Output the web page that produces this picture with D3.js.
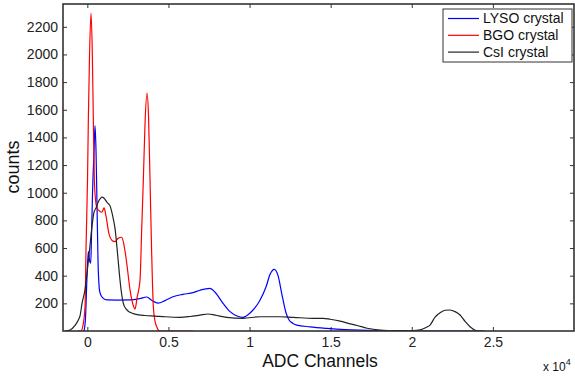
<!DOCTYPE html>
<html>
<head>
<meta charset="utf-8">
<script src="https://cdn.jsdelivr.net/npm/d3@7"></script>
<style>
  html, body { margin: 0; padding: 0; background: #fff; }
  svg { display: block; font-family: "Liberation Sans", Arial, sans-serif; }
</style>
</head>
<body>
<svg id="chart" width="575" height="380"></svg>
<script>
// ---- data (ADC channel, counts) ----
const seriesNames = ["LYSO crystal", "BGO crystal", "CsI crystal"];

const lysoX = [-203, -111, -18, 62, 123, 210, 259, 321, 413, 475, 536, 598, 660, 721, 783, 968, 1215, 1831, 2632, 3249, 3662, 3989, 4359, 4790, 5283, 5900, 6516, 6948, 7565, 7873, 8366, 8798, 9230, 9600, 10032, 10649, 11019, 11266, 11528, 11756, 12003, 12250, 12435, 12681, 12909, 13730, 14759, 15887, 17225, 18045, 19278, 24025];
const lysoY = [0, 100, 400, 574, 520, 490, 700, 1000, 1300, 1485, 1300, 900, 500, 330, 275, 238, 225, 224, 225, 235, 246, 220, 202, 220, 248, 265, 277, 295, 309, 280, 200, 140, 108, 99, 130, 224, 320, 410, 446, 400, 260, 130, 80, 55, 43, 30, 19, 10, 5, 2, 0, 0];

const bgoX = [-570, -390, -284, -142, -80, 12, 62, 136, 228, 308, 370, 432, 505, 598, 783, 906, 1030, 1153, 1338, 1523, 1708, 1893, 2121, 2263, 2429, 2632, 2817, 2941, 3064, 3249, 3342, 3452, 3557, 3680, 3773, 3865, 3958, 4069, 4174, 4278, 4389, 4482, 6516];
const bgoY = [0, 0, 31, 176, 600, 1100, 1526, 2000, 2300, 2000, 1526, 1100, 950, 890, 865, 860, 890, 830, 700, 655, 646, 670, 678, 620, 490, 297, 190, 159, 240, 369, 700, 1092, 1500, 1720, 1550, 1092, 600, 176, 70, 31, 5, 0, 0];

const csiX = [-1375, -1067, -758, -555, -450, -327, -142, -18, 166, 290, 413, 536, 660, 783, 906, 1030, 1215, 1399, 1585, 1708, 1831, 1973, 2078, 2220, 2386, 2632, 2941, 3557, 4174, 4790, 5715, 6331, 6948, 7441, 7873, 8594, 9600, 10649, 11882, 12681, 13915, 14532, 14963, 15580, 16197, 16628, 17245, 18045, 18970, 20079, 20511, 20880, 21127, 21435, 21743, 22051, 22359, 22667, 22975, 23283, 23591, 24004, 24518];
const csiY = [0, 7, 40, 80, 110, 200, 300, 420, 620, 760, 860, 890, 930, 955, 968, 960, 930, 905, 820, 740, 600, 417, 300, 200, 160, 135, 122, 112, 108, 103, 99, 105, 115, 123, 115, 99, 92, 103, 103, 99, 92, 92, 85, 72, 52, 40, 20, 7, 3, 3, 8, 25, 43, 100, 132, 150, 152, 140, 116, 70, 31, 3, 0];

const xTicks = [0, 5000, 10000, 15000, 20000, 25000];
const xTickLabels = ["0", "0.5", "1", "1.5", "2", "2.5"];
const yTicks = [200, 400, 600, 800, 1000, 1200, 1400, 1600, 1800, 2000, 2200];

// ---- layout ----
const pL = 63, pR = 574, pT = 4, pB = 331;
const svg = d3.select("#chart");
const x = d3.scaleLinear().domain([-1500, 30000]).range([pL, pR]);
const y = d3.scaleLinear().domain([0, 2365]).range([pB, pT]);
const axisColor = "#333";

svg.append("defs").append("clipPath").attr("id", "clip")
  .append("rect").attr("x", pL).attr("y", pT).attr("width", pR - pL).attr("height", pB - pT);

// axes
const xb = svg.append("g").attr("transform", `translate(0,${pB})`)
  .call(d3.axisBottom(x).tickValues(xTicks).tickSizeInner(-4).tickSizeOuter(0).tickPadding(6)
    .tickFormat((d, i) => xTickLabels[i]));
const xt = svg.append("g").attr("transform", `translate(0,${pT})`)
  .call(d3.axisTop(x).tickValues(xTicks).tickSizeInner(-4).tickSizeOuter(0).tickFormat(""));
const yl = svg.append("g").attr("transform", `translate(${pL},0)`)
  .call(d3.axisLeft(y).tickValues(yTicks).tickSizeInner(-4).tickSizeOuter(0).tickPadding(5)
    .tickFormat(d3.format("d")));
const yr = svg.append("g").attr("transform", `translate(${pR},0)`)
  .call(d3.axisRight(y).tickValues(yTicks).tickSizeInner(-4).tickSizeOuter(0).tickFormat(""));
[xb, xt, yl, yr].forEach(g => {
  g.select(".domain").remove();
  g.selectAll(".tick line").attr("stroke", axisColor).attr("stroke-width", 1);
  g.selectAll(".tick text").attr("fill", "#222").style("font-size", "14px")
    .style("font-family", '"Liberation Sans", Arial, sans-serif');
});

// lines
const series = [
  { name: seriesNames[0], xs: lysoX, ys: lysoY, color: "#0000ff" },
  { name: seriesNames[1], xs: bgoX, ys: bgoY, color: "#ff0000" },
  { name: seriesNames[2], xs: csiX, ys: csiY, color: "#222222" }
];
const line = d3.line().x(d => x(d[0])).y(d => y(d[1])).curve(d3.curveMonotoneX);
const plot = svg.append("g").attr("clip-path", "url(#clip)");
series.forEach(s => {
  plot.append("path").datum(s.xs.map((v, i) => [v, s.ys[i]]))
    .attr("fill", "none").attr("stroke", s.color).attr("stroke-width", 1.2)
    .attr("stroke-linejoin", "round").attr("d", line);
});

// box
svg.append("rect").attr("x", pL).attr("y", pT).attr("width", pR - pL).attr("height", pB - pT)
  .attr("fill", "none").attr("stroke", axisColor).attr("stroke-width", 1.6);

// axis labels
svg.append("text").attr("x", 320).attr("y", 366.5).attr("text-anchor", "middle")
  .style("font-size", "17.5px").attr("fill", "#111").text("ADC Channels");
svg.append("text").attr("transform", "translate(19,167) rotate(-90)").attr("text-anchor", "middle")
  .style("font-size", "18px").attr("fill", "#111").text("counts");
const mult = svg.append("text").attr("x", 543).attr("y", 371).style("font-size", "12px").attr("fill", "#111");
mult.append("tspan").text("x 10");
mult.append("tspan").attr("dy", -6).style("font-size", "9px").text("4");

// legend
const lg = svg.append("g");
lg.append("rect").attr("x", 443).attr("y", 9).attr("width", 129).attr("height", 53)
  .attr("fill", "#fff").attr("stroke", axisColor).attr("stroke-width", 1);
series.forEach((s, i) => {
  const cy = 18.5 + i * 16.8;
  lg.append("line").attr("x1", 448).attr("x2", 479).attr("y1", cy).attr("y2", cy)
    .attr("stroke", s.color).attr("stroke-width", 1.2);
  lg.append("text").attr("x", 483).attr("y", cy).attr("dy", "0.35em")
    .style("font-size", "14px").attr("fill", "#111").text(s.name);
});
</script>
</body>
</html>
